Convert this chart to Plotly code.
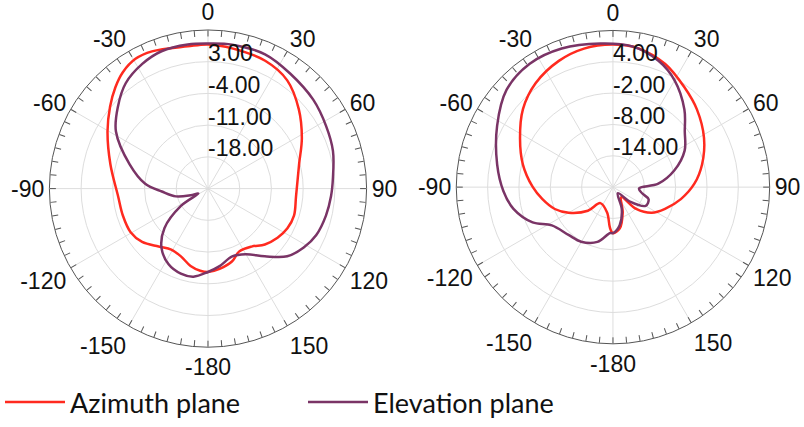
import plotly.graph_objects as go

# ---- Left antenna: gain pattern in dB (angle in degrees, 0 = boresight) ----
left_az_theta = [-180, -174.6, -167.3, -158.2, -148.9, -139.6, -129, -119.4, -107.7, -95,
                 -76, -60.4, -50, -42.4, -36.3, -29.2, -22.2, -8.1, 0, 9.8, 24.1, 36.2,
                 48.9, 61.8, 75.1, 95, 107.5, 116.6, 125.3, 134.5, 143.1, 153.8, 161.6,
                 171.8, 180]
left_az_gain = [-6.6, -6.8, -7.5, -8.9, -9.3, -8.2, -6.3, -5.4, -5.3, -5.1,
                -2.8, 0.5, 3.2, 5.3, 6.8, 7.8, 7.7, 6.7, 6.8, 6.4, 5.9, 4.6,
                1.6, -1.5, -4.2, -5.5, -5.1, -5.4, -6.2, -7.4, -9.0, -9.5, -8.1,
                -7.1, -6.6]

left_el_theta = [-180, -170.6, -162.3, -152.3, -141.8, -132.3, -122.7, -117, -111, -103.6,
                 -93.6, -85.6, -72.8, -58.2, -47.6, -38, -27.8, -18.7, -8, 0, 9.5, 23,
                 35.5, 49.8, 62, 73.2, 84.7, 93.6, 102.9, 113.2, 121.6, 130.5, 140,
                 150.2, 160.3, 171.5, 180]
left_el_gain = [-6.6, -5.3, -5.3, -6.2, -8.4, -12.0, -17.9, -22.6, -20.9, -17.7,
                -14.8, -11.1, -6.9, -1.1, 1.9, 4.5, 6.1, 7.0, 7.1, 7.0, 7.2, 7.2,
                6.2, 5.4, 4.5, 3.8, 2.7, 2.2, 1.7, 1.0, -0.2, -2.0, -5.5,
                -8.3, -9.1, -7.7, -6.6]

# ---- Right antenna ----
right_az_theta = [-180, -176, -167, -141.8, -133.3, -120, -110.6, -99.7, -89.7, -75.8,
                  -62.3, -49.1, -36.7, -23.2, -11.8, 0, 10.7, 23, 35.6, 47.2, 61.7,
                  75.7, 87.6, 100, 112.6, 123.5, 133.2, 140, 159, 170.6, 180]
right_az_gain = [-11.2, -12.1, -15.0, -16.1, -13.4, -10.2, -8.1, -6.3, -4.6, -2.2,
                 0.1, 2.8, 4.8, 6.3, 7.1, 7.3, 7.0, 5.6, 3.5, 1.9, -0.2,
                 -2.4, -4.4, -6.8, -9.2, -11.1, -13.9, -17.5, -14.8, -12.0, -11.2]

right_el_theta = [-180, -176.4, -164.2, -149.7, -137.1, -122, -113.7, -102.3, -92, -78.9,
                  -62.1, -47.6, -34, -20.3, -5, 7.8, 19.8, 30, 42.6, 52.2, 63, 74.7,
                  85.7, 93, 102, 108.7, 119.8, 130, 142, 158, 170, 180]
right_el_gain = [-11.2, -11.2, -9.1, -7.9, -7.5, -6.2, -3.2, -0.5, 1.0, 2.6,
                 5.1, 7.6, 8.5, 8.3, 7.6, 7.2, 5.7, 3.6, 0.2, -2.6, -4.6, -7.8,
                 -11.3, -15.0, -14.3, -12.8, -12.8, -15.6, -18.5, -15.5, -12.6, -11.2]

left_range = [-25, 10]
left_ticks = [-18, -11, -4, 3, 10]
right_range = [-20, 10]
right_ticks = [-14, -8, -2, 4, 10]

angle_ticks = list(range(0, 360, 5))
angle_labels = {0: "0", 30: "30", 60: "60", 90: "90", 120: "120", 150: "150",
                180: "-180", 210: "-150", 240: "-120", 270: "-90", 300: "-60", 330: "-30"}

AZ_COLOR = "#ff2a1f"
EL_COLOR = "#7a3466"
GRID = "#dddddd"
AXIS = "#555555"
FONT = "Liberation Sans"
TICK_FONT = dict(family=FONT, size=23, color="#111111")

fig = go.Figure()


def spokes(rng, subplot):
    th, rr = [], []
    for a in range(0, 360, 30):
        th += [a, a, None]
        rr += [rng[0], rng[1], None]
    fig.add_trace(go.Scatterpolar(theta=th, r=rr, mode="lines", subplot=subplot,
                                  line=dict(color=GRID, width=1), hoverinfo="skip",
                                  showlegend=False))


def ring_labels(rng, ticks, subplot):
    # gain labels sit just above each grid ring, right of the 0-degree spoke
    vals = [t for t in ticks if t != rng[1]]
    lift = 0.2 * (ticks[1] - ticks[0])
    fig.add_trace(go.Scatterpolar(theta=[0] * len(vals), r=[v + lift for v in vals],
                                  mode="text", text=[f"{t:.2f}" for t in vals],
                                  textposition="middle right", textfont=TICK_FONT,
                                  subplot=subplot, hoverinfo="skip", showlegend=False))


spokes(left_range, "polar")
spokes(right_range, "polar2")

fig.add_trace(go.Scatterpolar(theta=left_az_theta, r=left_az_gain, mode="lines",
                              name="Azimuth plane", subplot="polar", legendgroup="az",
                              line=dict(color=AZ_COLOR, width=2.5, shape="spline")))
fig.add_trace(go.Scatterpolar(theta=left_el_theta, r=left_el_gain, mode="lines",
                              name="Elevation plane", subplot="polar", legendgroup="el",
                              line=dict(color=EL_COLOR, width=2.5, shape="spline")))
fig.add_trace(go.Scatterpolar(theta=right_az_theta, r=right_az_gain, mode="lines",
                              name="Azimuth plane", subplot="polar2", legendgroup="az",
                              showlegend=False,
                              line=dict(color=AZ_COLOR, width=2.5, shape="spline")))
fig.add_trace(go.Scatterpolar(theta=right_el_theta, r=right_el_gain, mode="lines",
                              name="Elevation plane", subplot="polar2", legendgroup="el",
                              showlegend=False,
                              line=dict(color=EL_COLOR, width=2.5, shape="spline")))

ring_labels(left_range, left_ticks, "polar")
ring_labels(right_range, right_ticks, "polar2")


def polar_layout(domain_x, domain_y, rng, ticks):
    return dict(
        domain=dict(x=domain_x, y=domain_y),
        bgcolor="white",
        angularaxis=dict(
            rotation=90, direction="clockwise",
            tickmode="array", tickvals=angle_ticks,
            ticktext=[angle_labels.get(a, "") for a in angle_ticks],
            ticks="inside", ticklen=6, tickcolor=AXIS, tickwidth=1,
            showline=True, linecolor=AXIS, linewidth=1,
            showgrid=False,
            tickfont=TICK_FONT,
        ),
        radialaxis=dict(
            range=rng, tickmode="array", tickvals=ticks,
            showticklabels=False, showline=False, ticks="",
            showgrid=True, gridcolor=GRID, gridwidth=1,
        ),
    )


fig.update_layout(
    width=804, height=427,
    margin=dict(l=0, r=0, t=0, b=0),
    paper_bgcolor="white",
    polar=polar_layout([0.0547, 0.4627], [0.1593, 0.9274], left_range, left_ticks),
    polar2=polar_layout([0.5609, 0.9639], [0.1675, 0.9263], right_range, right_ticks),
    showlegend=True,
    legend=dict(orientation="h", x=0.0, y=0.025, xanchor="left", yanchor="middle",
                font=dict(family="Lato", size=27, color="#111111"),
                itemwidth=60, entrywidth=228, bgcolor="rgba(0,0,0,0)"),
)

fig.write_html("out.html")
